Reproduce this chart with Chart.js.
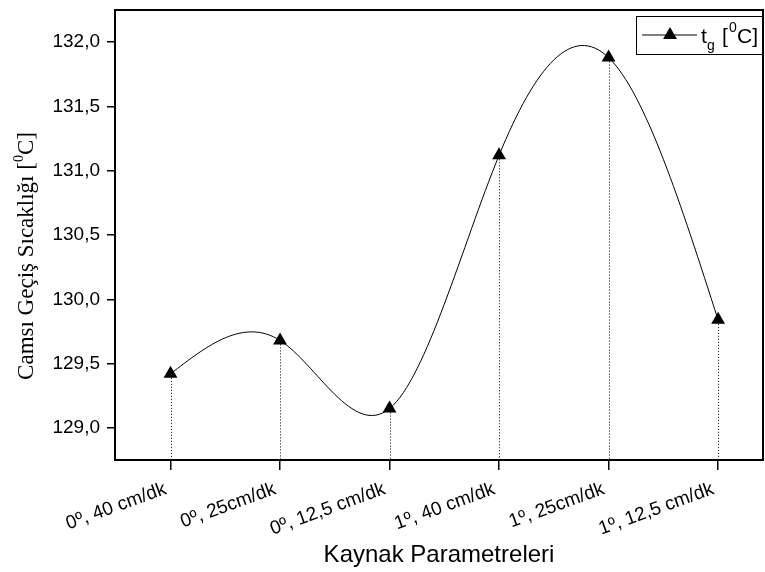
<!DOCTYPE html>
<html>
<head>
<meta charset="utf-8">
<script src="https://cdn.jsdelivr.net/npm/chart.js@4/dist/chart.umd.min.js"></script>
<style>
  html, body { margin: 0; padding: 0; background: #fff; }
  #wrap { width: 765px; height: 572px; }
</style>
</head>
<body>
<div id="wrap"><canvas id="chart"></canvas></div>
<script>
// data
const categories = ['0º, 40 cm/dk', '0º, 25cm/dk', '0º, 12,5 cm/dk', '1º, 40 cm/dk', '1º, 25cm/dk', '1º, 12,5 cm/dk'];
const tgValues = [129.42, 129.68, 129.15, 131.12, 131.88, 129.84];
const yTicks = [129.0, 129.5, 130.0, 130.5, 131.0, 131.5, 132.0];

const sans = "'Liberation Sans', Arial, sans-serif";
const serif = "'Liberation Serif', 'Times New Roman', serif";

// natural cubic spline through the points (what the original plot uses)
const splinePlugin = {
  id: 'naturalSpline',
  beforeDatasetDraw(chart, args) {
    const meta = args.meta;
    const pts = meta.data;
    const n = pts.length;
    if (n < 3) return;
    const x = pts.map(p => p.x), y = pts.map(p => p.y);
    const h = [];
    for (let i = 0; i < n - 1; i++) h.push(x[i + 1] - x[i]);
    // tridiagonal solve for second derivatives, M0 = Mn-1 = 0
    const M = new Array(n).fill(0);
    const c = new Array(n).fill(0), d = new Array(n).fill(0);
    for (let i = 1; i < n - 1; i++) {
      const a = h[i - 1], b = 2 * (h[i - 1] + h[i]), cc = h[i];
      const r = 6 * ((y[i + 1] - y[i]) / h[i] - (y[i] - y[i - 1]) / h[i - 1]);
      const den = b - a * c[i - 1];
      c[i] = cc / den;
      d[i] = (r - a * d[i - 1]) / den;
    }
    for (let i = n - 2; i >= 1; i--) M[i] = d[i] - c[i] * M[i + 1];
    const slope = [];
    for (let i = 0; i < n - 1; i++) {
      slope.push((y[i + 1] - y[i]) / h[i] - h[i] * (2 * M[i] + M[i + 1]) / 6);
    }
    slope.push((y[n - 1] - y[n - 2]) / h[n - 2] + h[n - 2] * (M[n - 2] + 2 * M[n - 1]) / 6);
    pts.forEach((p, i) => {
      const hp = i > 0 ? h[i - 1] : 0, hn = i < n - 1 ? h[i] : 0;
      p.cp1x = x[i] - hp / 3; p.cp1y = y[i] - slope[i] * hp / 3;
      p.cp2x = x[i] + hn / 3; p.cp2y = y[i] + slope[i] * hn / 3;
    });
    meta.dataset._pointsUpdated = true;
    meta.dataset._path = undefined;
  }
};

// dotted drop lines, frame, y title and legend
const decoPlugin = {
  id: 'deco',
  beforeDatasetsDraw(chart) {
    const ctx = chart.ctx, area = chart.chartArea;
    const meta = chart.getDatasetMeta(0);
    ctx.save();
    ctx.strokeStyle = '#000';
    ctx.lineWidth = 1;
    ctx.setLineDash([1, 2]);
    meta.data.forEach(p => {
      ctx.beginPath();
      ctx.moveTo(Math.round(p.x) + 0.5, p.y + 4);
      ctx.lineTo(Math.round(p.x) + 0.5, area.bottom);
      ctx.stroke();
    });
    ctx.restore();
  },
  afterDraw(chart) {
    const ctx = chart.ctx, area = chart.chartArea;
    ctx.save();
    ctx.strokeStyle = '#000';
    ctx.lineWidth = 2;
    ctx.strokeRect(area.left, area.top, area.right - area.left, area.bottom - area.top);

    // y axis title, rotated
    ctx.save();
    ctx.translate(27, 256);
    ctx.rotate(-Math.PI / 2);
    ctx.fillStyle = '#000';
    ctx.textBaseline = 'middle';
    const main = 'Camsı Geçiş Sıcaklığı [';
    ctx.font = '23px ' + serif;
    const w1 = ctx.measureText(main).width;
    ctx.font = '14px ' + serif;
    const w2 = ctx.measureText('0').width;
    ctx.font = '23px ' + serif;
    const w3 = ctx.measureText('C]').width;
    let sx = -(w1 + w2 + w3) / 2;
    ctx.textAlign = 'left';
    ctx.fillText(main, sx, 0);
    ctx.font = '14px ' + serif;
    ctx.fillText('0', sx + w1, -8);
    ctx.font = '23px ' + serif;
    ctx.fillText('C]', sx + w1 + w2, 0);
    ctx.restore();

    // legend box
    ctx.lineWidth = 1;
    ctx.strokeRect(636.5, 16.5, 127, 38);
    const ly = 35;
    ctx.beginPath();
    ctx.moveTo(642, ly); ctx.lineTo(697, ly);
    ctx.stroke();
    const r = 8;
    ctx.beginPath();
    ctx.moveTo(670, ly - r);
    ctx.lineTo(670 + r * 0.866, ly + r / 2);
    ctx.lineTo(670 - r * 0.866, ly + r / 2);
    ctx.closePath();
    ctx.fillStyle = '#000';
    ctx.fill();
    ctx.textBaseline = 'alphabetic';
    ctx.textAlign = 'left';
    ctx.font = '21px ' + sans;
    ctx.fillText('t', 701, 43);
    ctx.font = '14px ' + sans;
    ctx.fillText('g', 707, 50);
    ctx.font = '21px ' + sans;
    ctx.fillText('[', 722, 43);
    ctx.font = '14px ' + sans;
    ctx.fillText('0', 729, 32);
    ctx.font = '21px ' + sans;
    ctx.fillText('C]', 737, 43);
    ctx.restore();
  }
};

new Chart(document.getElementById('chart'), {
  type: 'line',
  data: {
    datasets: [{
      label: 'tg [0C]',
      data: tgValues.map((v, i) => ({ x: i, y: v })),
      borderColor: '#000',
      borderWidth: 1,
      backgroundColor: '#000',
      pointStyle: 'triangle',
      pointRadius: 8,
      pointBorderWidth: 0,
      pointBackgroundColor: '#000',
      tension: 0.4,
      fill: false
    }]
  },
  options: {
    responsive: true,
    maintainAspectRatio: false,
    animation: false,
    layout: { autoPadding: false, padding: { top: 10, right: 2, left: 0, bottom: 0 } },
    plugins: { legend: { display: false }, tooltip: { enabled: false } },
    scales: {
      x: {
        type: 'linear',
        min: -0.507,
        max: 5.41,
        afterBuildTicks: s => { s.ticks = categories.map((_, i) => ({ value: i })); },
        afterFit: s => { s.height = 112; s.paddingLeft = 0; s.paddingRight = 0; },
        grid: { drawOnChartArea: false, drawTicks: true, tickLength: 10, color: '#000', lineWidth: 1.5 },
        border: { display: false },
        ticks: {
          autoSkip: false,
          minRotation: 20,
          maxRotation: 20,
          padding: 6,
          color: '#000',
          font: { family: sans, size: 19 },
          callback: v => categories[v] + ' '
        },
        title: {
          display: true,
          text: 'Kaynak Parametreleri',
          color: '#000',
          font: { family: sans, size: 24 },
          padding: { top: 0, bottom: 2 }
        }
      },
      y: {
        min: 128.75,
        max: 132.25,
        afterBuildTicks: s => { s.ticks = yTicks.map(v => ({ value: v })); },
        afterFit: s => { s.width = 115; s.paddingTop = 0; s.paddingBottom = 0; },
        grid: { drawOnChartArea: false, drawTicks: true, tickLength: 8, color: '#000', lineWidth: 1.5 },
        border: { display: false },
        ticks: {
          padding: 7,
          color: '#000',
          font: { family: sans, size: 19 },
          callback: v => v.toFixed(1).replace('.', ',')
        },
        title: { display: false }
      }
    }
  },
  plugins: [splinePlugin, decoPlugin]
});
</script>
</body>
</html>
